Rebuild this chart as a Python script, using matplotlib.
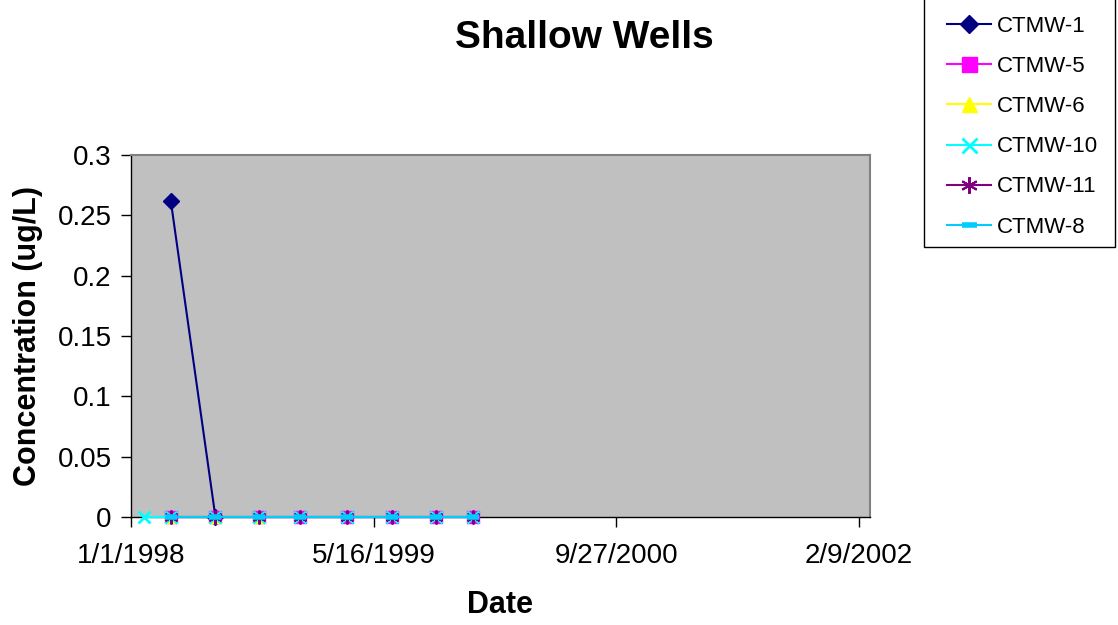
import matplotlib
matplotlib.use("Agg")
import matplotlib.pyplot as plt
import matplotlib.dates as mdates
import matplotlib.patches as mpatches
import datetime as dt

plt.rcParams['font.family'] = ['Liberation Sans', 'DejaVu Sans']

# ---- data ----
sample_dates = ['1998-01-27', '1998-03-24', '1998-06-24', '1998-09-21', '1998-12-15',
                '1999-03-23', '1999-06-22', '1999-09-21', '1999-12-07']
ctmw1_idx = [1, 2]
ctmw1_vals = [0.262, 0.0]
ctmw5_idx = [1, 2, 3, 4, 5, 6, 7, 8]
ctmw5_vals = [0, 0, 0, 0, 0, 0, 0, 0]
ctmw6_idx = [1, 2, 3]
ctmw6_vals = [0, 0, 0]
ctmw10_idx = [0, 1, 2, 3, 4, 5, 6, 7, 8]
ctmw10_vals = [0, 0, 0, 0, 0, 0, 0, 0, 0]
ctmw11_idx = [1, 2, 3, 4, 5, 6, 7, 8]
ctmw11_vals = [0, 0, 0, 0, 0, 0, 0, 0]
ctmw8_idx = [1, 2, 3, 4, 5, 6, 7, 8]
ctmw8_vals = [0, 0, 0, 0, 0, 0, 0, 0]
x_tick_labels = ['1/1/1998', '5/16/1999', '9/27/2000', '2/9/2002']
y_ticks = [0, 0.05, 0.1, 0.15, 0.2, 0.25, 0.3]
y_tick_labels = ['0', '0.05', '0.1', '0.15', '0.2', '0.25', '0.3']

dates = [dt.datetime.strptime(d, '%Y-%m-%d') for d in sample_dates]

W, H = 1118, 625
fig = plt.figure(figsize=(W / 100, H / 100), dpi=100)
L, R, T, B = 131, 870, 155, 517
ax = fig.add_axes([L / W, 1 - B / H, (R - L) / W, (B - T) / H])
ax.set_facecolor('#C0C0C0')

series = [
    ('CTMW-1', ctmw1_idx, ctmw1_vals, dict(color='#000080', marker='D', ms=8, mfc='#000080', mec='#000080')),
    ('CTMW-5', ctmw5_idx, ctmw5_vals, dict(color='#FF00FF', marker='s', ms=9, mfc='#FF00FF', mec='#FF00FF')),
    ('CTMW-6', ctmw6_idx, ctmw6_vals, dict(color='#FFFF00', marker='^', ms=9, mfc='#FFFF00', mec='#FFFF00')),
    ('CTMW-10', ctmw10_idx, ctmw10_vals, dict(color='#00FFFF', marker='x', ms=9, mew=2)),
    ('CTMW-11', ctmw11_idx, ctmw11_vals, dict(color='#800080', marker=(6, 2, 0), ms=10, mew=1.5)),
    ('CTMW-8', ctmw8_idx, ctmw8_vals, dict(color='#00CCFF', marker='_', ms=9, mew=4)),
]
handles = []
for name, idx, vals, st in series:
    xs = [dates[i] for i in idx]
    h, = ax.plot(xs, vals, lw=1.5, label=name, clip_on=False, zorder=3, **st)
    handles.append(h)

start = dt.datetime(1998, 1, 1)
tick_dates = [start + dt.timedelta(days=500 * i) for i in range(4)]
ax.set_xlim(mdates.date2num(start), mdates.date2num(start) + 1523)
ax.set_xticks([mdates.date2num(d) for d in tick_dates])
ax.set_xticklabels(x_tick_labels)
ax.set_ylim(0, 0.3)
ax.set_yticks(y_ticks)
ax.set_yticklabels(y_tick_labels)

ax.tick_params(axis='both', direction='out', length=7, width=1, labelsize=20, colors='black', pad=7)
ax.tick_params(axis='x', pad=12)
for s in ['left', 'bottom']:
    ax.spines[s].set_color('black')
    ax.spines[s].set_linewidth(1)
for s in ['top', 'right']:
    ax.spines[s].set_color('#808080')
    ax.spines[s].set_linewidth(1.5)

ax.set_xlabel('Date', fontsize=22, fontweight='bold')
ax.xaxis.label.set_va('center')
ax.xaxis.set_label_coords((500 - L) / (R - L), (B - 605) / (B - T))
ax.set_ylabel('Concentration (ug/L)', fontsize=22, fontweight='bold')
ax.yaxis.label.set_va('center')
ax.yaxis.set_label_coords((28 - L) / (R - L), 0.5)
fig.text(584 / W, 1 - 38 / H, 'Shallow Wells', ha='center', va='center', fontsize=28, fontweight='bold')

# legend box (top edge runs off the canvas, as in the reference)
box = mpatches.Rectangle((924 / W, 1 - 247 / H), (1115 - 924) / W, 255 / H,
                         transform=fig.transFigure, fill=True, facecolor='white',
                         edgecolor='black', lw=1, clip_on=False)
fig.add_artist(box)
leg = fig.legend(handles=handles, loc='upper left', bbox_to_anchor=(947 / W, 1 - 16 / H),
                 frameon=False, fontsize=16,
                 handlelength=2.0, labelspacing=0.86, borderpad=0, handletextpad=0.25,
                 borderaxespad=0, markerscale=1.2)

fig.savefig('out.png', dpi=100)
